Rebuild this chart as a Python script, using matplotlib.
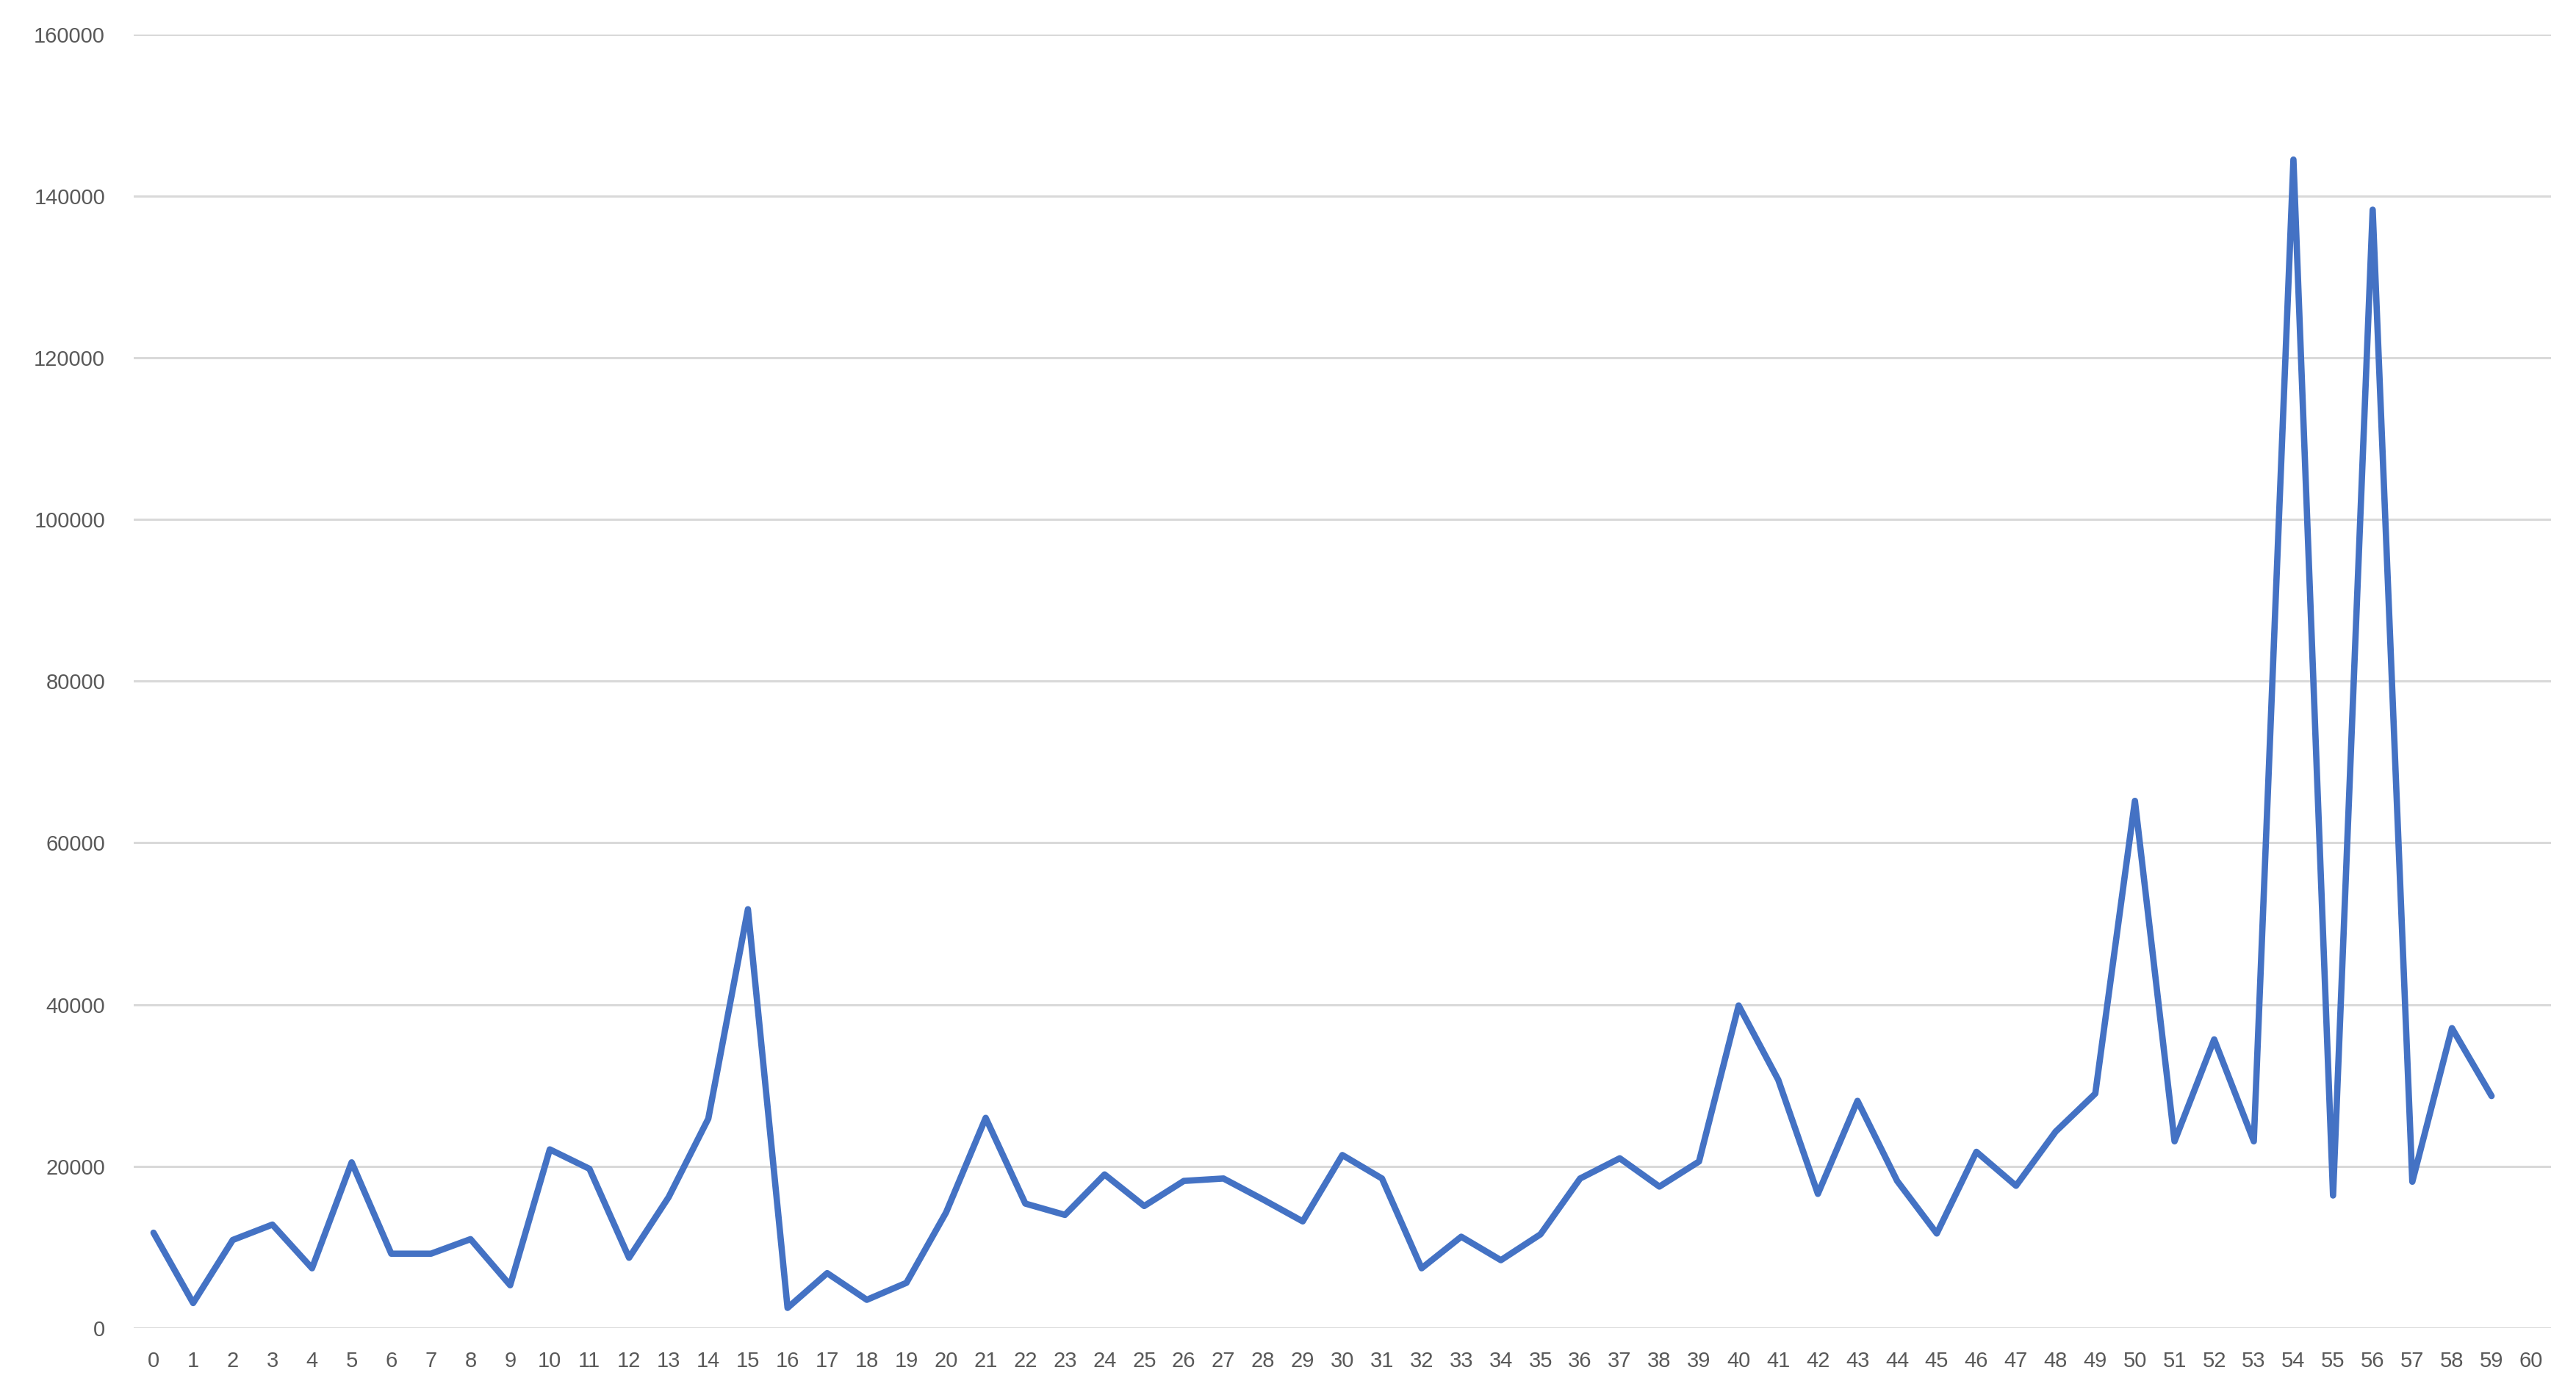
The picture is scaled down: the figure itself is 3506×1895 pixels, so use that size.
import matplotlib
matplotlib.use("Agg")
import matplotlib.pyplot as plt
import numpy as np

categories = list(range(61))
values = [11800, 3100, 10900, 12800, 7400, 20500, 9200, 9200, 11000, 5300,
          22100, 19700, 8700, 16200, 25900, 51800, 2500, 6800, 3500, 5600,
          14300, 26000, 15400, 14000, 19000, 15100, 18200, 18500, 15900, 13200,
          21400, 18500, 7400, 11300, 8400, 11600, 18500, 21000, 17500, 20600,
          39900, 30700, 16600, 28100, 18200, 11700, 21800, 17600, 24300, 29000,
          65200, 23100, 35700, 23100, 144500, 16400, 138300, 18100, 37100, 28700]
y_ticks = [0, 20000, 40000, 60000, 80000, 100000, 120000, 140000, 160000]

fig = plt.figure(figsize=(35.06, 18.95), dpi=100)
ax = fig.add_axes([0.0519, 0.0459, 0.9903 - 0.0519, 0.9754 - 0.0459])

ax.plot(categories[:len(values)], values, color="#4472C4", linewidth=6.2,
        solid_joinstyle="round", solid_capstyle="round", zorder=3)

ax.set_xlim(-0.5, 60.5)
ax.set_ylim(0, 160000)
ax.set_xticks(categories)
ax.set_xticklabels([str(c) for c in categories])
ax.set_yticks(y_ticks)
ax.set_yticklabels([str(v) for v in y_ticks])

ax.grid(axis="y", color="#D9D9D9", linewidth=2.2, zorder=0)
ax.set_axisbelow(True)
for s in ax.spines.values():
    s.set_visible(False)
ax.tick_params(axis="both", length=0, labelsize=21, labelcolor="#595959")
ax.tick_params(axis="y", pad=28)
ax.tick_params(axis="x", pad=22)
for lab in ax.get_xticklabels() + ax.get_yticklabels():
    lab.set_fontfamily("Liberation Sans")

fig.savefig("out.png", dpi=100, facecolor="white")
